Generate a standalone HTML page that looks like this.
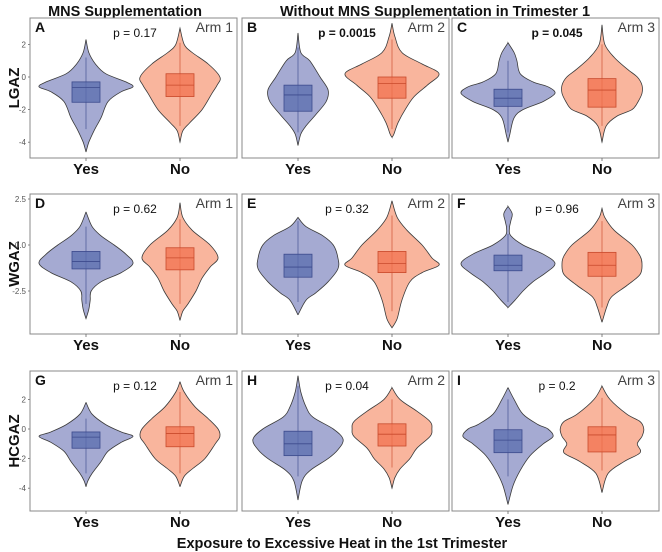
<!DOCTYPE html>
<html><head><meta charset="utf-8">
<style>
html,body{margin:0;padding:0;background:#fff;}
svg{display:block;font-family:"Liberation Sans",Arial,sans-serif;}
</style></head>
<body>
<svg id="chart" width="662" height="552" viewBox="0 0 662 552"></svg>
<script>
// ---- data ----
const panelLetters = ["A","B","C","D","E","F","G","H","I"];
const armLabels = ["Arm 1","Arm 2","Arm 3"];
const pValues = ["p = 0.17","p = 0.0015","p = 0.045","p = 0.62","p = 0.32","p = 0.96","p = 0.12","p = 0.04","p = 0.2"];
const pBold = [false,true,true,false,false,false,false,false,false];
const rowLabels = ["LGAZ","WGAZ","HCGAZ"];
const categories = ["Yes","No"];
const row1Ticks = [2,0,-2,-4];
const row2Ticks = [2.5,0,-2.5];
const row2TickLabels = ["2.5","0.0","-2.5"];
const row3Ticks = [2,0,-2,-4];
// violin profiles: [value, relative density]
const violinYes = [
 [[2.3,0],[1.5,.06],[0.8,.2],[0.2,.42],[-0.3,.85],[-0.6,1],[-0.9,.75],[-1.5,.47],[-2.5,.32],[-3.3,.17],[-4,.06],[-4.6,0]],
 [[2.7,0],[1.5,.06],[1,.25],[0,.47],[-0.8,.64],[-1.5,.6],[-2.3,.38],[-3,.17],[-3.5,.06],[-4.2,0]],
 [[2.1,0],[1.5,.13],[1,.19],[0.2,.26],[-0.3,.53],[-0.6,.85],[-1,1],[-1.5,.75],[-2,.32],[-2.5,.13],[-3.5,.04],[-4,0]],
 [[1.8,0],[1,.13],[0.5,.32],[0,.6],[-0.5,.85],[-1,1],[-1.5,.75],[-2,.32],[-2.5,.11],[-3,.09],[-3.5,.06],[-4,0]],
 [[1.5,0],[1,.17],[0.5,.53],[0,.75],[-0.7,.85],[-1.3,.85],[-2,.64],[-2.6,.38],[-3,.17],[-3.8,0]],
 [[2.1,0],[1.7,.09],[1.3,.06],[0.9,.03],[0.5,.06],[0,.32],[-0.5,.75],[-1,1],[-1.5,.81],[-2,.53],[-2.5,.32],[-3,.15],[-3.4,0]],
 [[1.8,0],[1,.13],[0.3,.42],[-0.2,.75],[-0.5,1],[-0.9,.75],[-1.5,.47],[-2.2,.32],[-3,.13],[-3.5,.04],[-3.9,0]],
 [[3.6,0],[2.5,.06],[1.5,.17],[0.8,.32],[0,.75],[-0.7,.96],[-1.4,.85],[-2,.64],[-2.8,.26],[-3.5,.09],[-4.8,0]],
 [[2.8,0],[2,.13],[1,.32],[0.3,.64],[0,.85],[-0.5,.96],[-1,.75],[-1.8,.47],[-2.8,.26],[-3.8,.11],[-5.1,0]]
];
const violinNo = [
 [[3,0],[2,.09],[1.5,.26],[0.8,.6],[0,.85],[-0.5,.79],[-1,.68],[-2,.47],[-2.8,.21],[-3.3,.06],[-4,0]],
 [[3.3,0],[2.5,.06],[1.5,.21],[0.8,.64],[0.2,1],[-0.5,.75],[-1.2,.47],[-2,.28],[-2.8,.13],[-3.5,.04],[-3.7,0]],
 [[3.2,0],[2,.06],[1.2,.26],[0.5,.53],[0,.75],[-0.5,.85],[-1,.85],[-1.5,.77],[-2,.64],[-2.4,.32],[-3,.09],[-4,0]],
 [[2.3,0],[1.5,.06],[0.8,.26],[0,.64],[-0.7,.81],[-1.2,.64],[-1.8,.47],[-2.5,.34],[-3.2,.17],[-3.6,.06],[-4.1,0]],
 [[2.4,0],[1.5,.11],[0.8,.32],[0,.64],[-0.7,.85],[-1.1,1],[-1.5,.64],[-2,.38],[-3,.21],[-4,.11],[-4.5,0]],
 [[2,0],[1.5,.06],[0.8,.26],[0,.64],[-0.6,.81],[-1,.85],[-1.6,.81],[-2.2,.53],[-2.8,.21],[-3.3,.11],[-4.2,0]],
 [[3.2,0],[2.5,.09],[1.5,.32],[0.7,.6],[0,.81],[-0.5,.85],[-1,.75],[-2,.53],[-2.7,.26],[-3.2,.09],[-3.9,0]],
 [[2.8,0],[2,.17],[1.2,.53],[0.5,.81],[0,.85],[-0.5,.81],[-1.3,.53],[-2,.38],[-2.7,.17],[-3.3,.06],[-4,0]],
 [[2.9,0],[2,.17],[1,.53],[0.5,.81],[0,.89],[-0.5,.85],[-1,.75],[-1.6,.81],[-2.2,.47],[-3,.13],[-4.3,0]]
];
// box stats: [whiskerLow, q1, median, q3, whiskerHigh]
const boxYes = [[-3.2,-1.55,-0.65,-0.3,1.2],[-3.4,-2.1,-1.1,-0.5,1.8],[-3.4,-1.8,-1.3,-0.75,1.0],[-3.2,-1.3,-0.9,-0.35,1.0],[-3.1,-1.75,-1.2,-0.5,1.3],[-3.1,-1.4,-1.1,-0.55,0.6],[-3.0,-1.3,-0.55,-0.2,0.7],[-3.2,-1.8,-1.0,-0.15,2.9],[-3.2,-1.6,-0.75,-0.05,2.0]];
const boxNo = [[-3.0,-1.2,-0.5,0.2,2.1],[-3.2,-1.3,-0.4,0,2.3],[-3.0,-1.85,-0.8,-0.1,2.0],[-3.2,-1.35,-0.7,-0.15,1.4],[-3.6,-1.5,-1.0,-0.35,1.6],[-3.4,-1.7,-1.1,-0.4,1.3],[-3.0,-1.2,-0.3,0.15,2.5],[-2.6,-1.15,-0.35,0.35,2.0],[-2.8,-1.55,-0.4,0.15,2.1]];

// ---- layout ----
const svg = document.getElementById('chart');
const NS = 'http://www.w3.org/2000/svg';
const colX = [30,242,452];
const panelW = 207;
const rows = [
 {top:18,h:140,zeroY:77,scale:16.3,ticks:row1Ticks,labels:row1Ticks.map(String),catY:174},
 {top:194,h:140,zeroY:245,scale:18.4,ticks:row2Ticks,labels:row2TickLabels,catY:350},
 {top:371,h:140,zeroY:429,scale:14.8,ticks:row3Ticks,labels:row3Ticks.map(String),catY:527}
];
function el(tag, attrs, parent){
  const e=document.createElementNS(NS,tag);
  for(const k in attrs) e.setAttribute(k,attrs[k]);
  (parent||svg).appendChild(e); return e;
}
function txt(s, attrs, parent){ const t=el('text',attrs,parent); t.textContent=s; return t; }
function smooth(pts){
  let d='M'+pts[0][0]+','+pts[0][1];
  for(let i=0;i<pts.length-1;i++){
    const p0=pts[i-1]||pts[i], p1=pts[i], p2=pts[i+1], p3=pts[i+2]||p2;
    const c1=[p1[0]+(p2[0]-p0[0])/6, p1[1]+(p2[1]-p0[1])/6];
    const c2=[p2[0]-(p3[0]-p1[0])/6, p2[1]-(p3[1]-p1[1])/6];
    d+=' C'+c1[0].toFixed(1)+','+c1[1].toFixed(1)+' '+c2[0].toFixed(1)+','+c2[1].toFixed(1)+' '+p2[0].toFixed(1)+','+p2[1].toFixed(1);
  }
  return d;
}
function violinPath(cx, prof, yf, maxHalf){
  const right=prof.map(p=>[cx+p[1]*maxHalf, yf(p[0])]);
  const left=prof.slice().reverse().map(p=>[cx-p[1]*maxHalf, yf(p[0])]);
  const r=smooth(right), l=smooth(left).replace(/^M/,' L');
  return r+l+' Z';
}

// titles
txt('MNS Supplementation',{x:125,y:16,'text-anchor':'middle','font-size':14.5,'font-weight':'bold',fill:'#111',});
txt('Without MNS Supplementation in Trimester 1',{x:435,y:16,'text-anchor':'middle','font-size':14.5,'font-weight':'bold',fill:'#111',});
txt('Exposure to Excessive Heat in the 1st Trimester',{x:342,y:548,'text-anchor':'middle','font-size':14.5,'font-weight':'bold',fill:'#111',});

rows.forEach((row,ri)=>{
  const yf=v=>row.zeroY-v*row.scale;
  const yl=txt(rowLabels[ri],{x:0,y:0,transform:'translate(19,'+(row.top+row.h/2)+') rotate(-90)','text-anchor':'middle','font-size':15,'font-weight':'bold',fill:'#111'});
  
  
  row.ticks.forEach((t,ti)=>{
    const tl=txt(row.labels[ti],{x:colX[0]-4,y:yf(t)+3,'text-anchor':'end','font-size':8,fill:'#555'});
    
    
    el('line',{x1:colX[0]-2,x2:colX[0],y1:yf(t),y2:yf(t),stroke:'#666','stroke-width':0.8});
  });
  for(let ci=0;ci<3;ci++){
    const pi=ri*3+ci, x0=colX[ci];
    const g=el('g',{});
    
    
    const frame=el('rect',{x:x0,y:row.top,width:panelW,height:row.h,fill:'#fff',stroke:'#888','stroke-width':1},g);
    
    
    const centers=[x0+56,x0+150];
    [[violinYes,boxYes,'#a5aad2','#5a6cae','#3c4a8c'],[violinNo,boxNo,'#f9b59d','#f1714f','#c84a2c']].forEach((s,si)=>{
      const cx=centers[si];
      const vp=el('path',{d:violinPath(cx,s[0][pi],yf,47),fill:s[2],stroke:'#3a3a3a','stroke-width':0.8},g);
      
      
      const b=s[1][pi];
      const wh=el('line',{x1:cx,x2:cx,y1:yf(b[0]),y2:yf(b[4]),stroke:s[4],'stroke-width':0.8,'stroke-opacity':0.8},g);
      
      
      const bx=el('rect',{x:cx-14,y:yf(b[3]),width:28,height:yf(b[1])-yf(b[3]),fill:s[3],'fill-opacity':0.75,stroke:s[4],'stroke-width':0.8},g);
      
      
      const md=el('line',{x1:cx-14,x2:cx+14,y1:yf(b[2]),y2:yf(b[2]),stroke:s[4],'stroke-width':0.8},g);
      
      
      el('line',{x1:cx,x2:cx,y1:row.top+row.h,y2:row.top+row.h+3,stroke:'#666','stroke-width':0.8},g);
      const cl=txt(categories[si],{x:cx,y:row.catY,'text-anchor':'middle','font-size':15,'font-weight':'bold',fill:'#111'},g);
      
      
    });
    const lt=txt(panelLetters[pi],{x:x0+5,y:row.top+14,'font-size':14,'font-weight':'bold',fill:'#111'},g);
    
    
    const at=txt(armLabels[ci],{x:x0+panelW-4,y:row.top+14,'text-anchor':'end','font-size':14,fill:'#444'},g);
    
    
    const pt=txt(pValues[pi],{x:x0+105,y:row.top+19,'text-anchor':'middle','font-size':12,'font-weight':pBold[pi]?'bold':'normal',fill:'#111'},g);
    
    
  }
});
</script>
</body></html>
